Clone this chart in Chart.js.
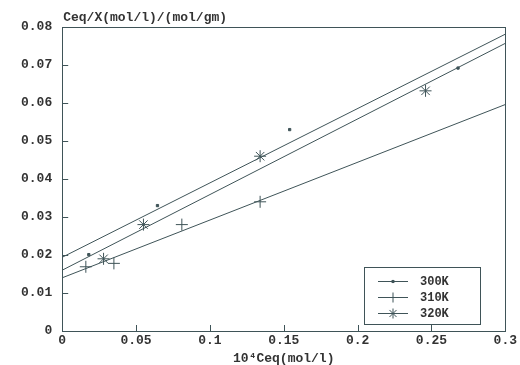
<!DOCTYPE html>
<html>
<head>
<meta charset="utf-8">
<script src="https://cdn.jsdelivr.net/npm/chart.js@4/dist/chart.umd.min.js"></script>
<style>
  html, body { margin: 0; padding: 0; background: #fff; }
  #wrap { width: 520px; height: 365px; }
</style>
</head>
<body>
<div id="wrap"><canvas id="chart" width="520" height="365"></canvas></div>
<script>
// series labels
const seriesNames = ['300K', '310K', '320K'];
const seriesStyles = ['rect', 'cross', 'star'];

// measured points, x = 10^4 Ceq (mol/l), y = Ceq/X
const x300 = [0.018, 0.0645, 0.154, 0.268];
const y300 = [0.0201, 0.0330, 0.0530, 0.0692];
const x310 = [0.016, 0.035, 0.081, 0.134];
const y310 = [0.0169, 0.0178, 0.0280, 0.0340];
const x320 = [0.028, 0.055, 0.134, 0.246];
const y320 = [0.0190, 0.0280, 0.0460, 0.0632];

// fitted lines
const intercepts = [0.0194, 0.0140, 0.0160];
const slopes = [0.1957, 0.1520, 0.1990];

const xTicks = [0, 0.05, 0.1, 0.15, 0.2, 0.25, 0.3];
const yTicks = [0, 0.01, 0.02, 0.03, 0.04, 0.05, 0.06, 0.07, 0.08];

const ink = '#3f5458';
const textInk = '#333';
const fontFam = '"Liberation Mono", "DejaVu Sans Mono", monospace';

function pts(xs, ys) {
    return xs.map((x, i) => ({ x: x, y: ys[i] }));
}

function fitLine(i) {
    const x0 = xTicks[0], x1 = xTicks[xTicks.length - 1];
    return [{ x: x0, y: intercepts[i] + slopes[i] * x0 }, { x: x1, y: intercepts[i] + slopes[i] * x1 }];
}

const pointSets = [pts(x300, y300), pts(x310, y310), pts(x320, y320)];
const radii = [1.6, 6, 6];

const datasets = [];
for (let i = 0; i < 3; i++) {
    datasets.push({
        label: seriesNames[i],
        data: pointSets[i],
        showLine: false,
        pointStyle: seriesStyles[i],
        pointRadius: radii[i],
        pointBorderWidth: 1,
        borderColor: ink,
        backgroundColor: ink
    });
}
for (let i = 0; i < 3; i++) {
    datasets.push({
        label: seriesNames[i] + ' fit',
        data: fitLine(i),
        showLine: true,
        pointRadius: 0,
        borderWidth: 1,
        borderColor: ink,
        fill: false
    });
}

// inward ticks, y title, boxed legend
const decor = {
    id: 'decor',
    afterDraw(c) {
        const ctx = c.ctx;
        const a = c.chartArea;
        const xs = c.scales.x, ys = c.scales.y;
        ctx.save();
        ctx.strokeStyle = ink;
        ctx.lineWidth = 1;
        ctx.beginPath();
        yTicks.forEach(v => {
            const py = Math.round(ys.getPixelForValue(v)) + 0.5;
            ctx.moveTo(a.left, py); ctx.lineTo(a.left + 6, py);
        });
        xTicks.forEach(v => {
            const px = Math.round(xs.getPixelForValue(v)) + 0.5;
            ctx.moveTo(px, a.bottom); ctx.lineTo(px, a.bottom - 6);
        });
        ctx.stroke();

        ctx.fillStyle = textInk;
        ctx.font = 'bold 13px ' + fontFam;
        ctx.textAlign = 'left';
        ctx.textBaseline = 'alphabetic';
        ctx.fillText('Ceq/X(mol/l)/(mol/gm)', a.left + 1, a.top - 6);

        // legend, placed from the plot's lower right corner
        const bw = 116, bh = 57;
        const bx = Math.round(a.right) - 141, by = Math.round(a.bottom) - 64;
        ctx.strokeRect(bx + 0.5, by + 0.5, bw, bh);
        for (let i = 0; i < 3; i++) {
            const ly = by + 14 + i * 16;
            ctx.beginPath();
            ctx.moveTo(bx + 14, ly + 0.5); ctx.lineTo(bx + 44, ly + 0.5);
            ctx.stroke();
            Chart.helpers.drawPoint(ctx, {
                pointStyle: seriesStyles[i],
                radius: i === 0 ? 1.5 : 5,
                borderWidth: 1
            }, bx + 29, ly + 0.5);
            ctx.fillStyle = ink;
            ctx.fill();
            ctx.fillStyle = textInk;
            ctx.font = 'bold 12px ' + fontFam;
            ctx.textBaseline = 'middle';
            ctx.fillText(seriesNames[i], bx + 56, ly + 1);
        }
        ctx.restore();
    }
};

const tickFont = { family: fontFam, size: 13, weight: 'bold', lineHeight: 1 };

new Chart(document.getElementById('chart'), {
    type: 'scatter',
    data: { datasets: datasets },
    options: {
        responsive: false,
        animation: false,
        layout: { padding: { top: 27, right: 6, left: 11, bottom: 0 } },
        plugins: { legend: { display: false }, tooltip: { enabled: false } },
        scales: {
            x: {
                type: 'linear',
                min: 0, max: 0.3,
                afterBuildTicks: s => { s.ticks = xTicks.map(v => ({ value: v })); },
                grid: { drawOnChartArea: false, drawTicks: false },
                border: { color: ink, width: 1 },
                ticks: {
                    color: textInk, padding: 3, maxRotation: 0, font: tickFont,
                    callback: v => String(Number(v.toFixed(4)))
                },
                title: { display: true, text: '10\u2074Ceq(mol/l)', color: textInk, padding: { top: 2, bottom: 0 }, font: tickFont }
            },
            y: {
                type: 'linear',
                min: 0, max: 0.08,
                afterBuildTicks: s => { s.ticks = yTicks.map(v => ({ value: v })); },
                grid: { drawOnChartArea: false, drawTicks: false },
                border: { color: ink, width: 1 },
                ticks: {
                    color: textInk, padding: 10, font: tickFont,
                    callback: v => String(Number(v.toFixed(4)))
                }
            }
        }
    },
    plugins: [decor, {
        id: 'frame',
        afterDatasetsDraw(c) {
            const a = c.chartArea, ctx = c.ctx;
            ctx.save();
            ctx.strokeStyle = ink;
            ctx.lineWidth = 1;
            ctx.strokeRect(Math.round(a.left) + 0.5, Math.round(a.top) + 0.5, Math.round(a.right - a.left), Math.round(a.bottom - a.top));
            ctx.restore();
        }
    }]
});
</script>
</body>
</html>
